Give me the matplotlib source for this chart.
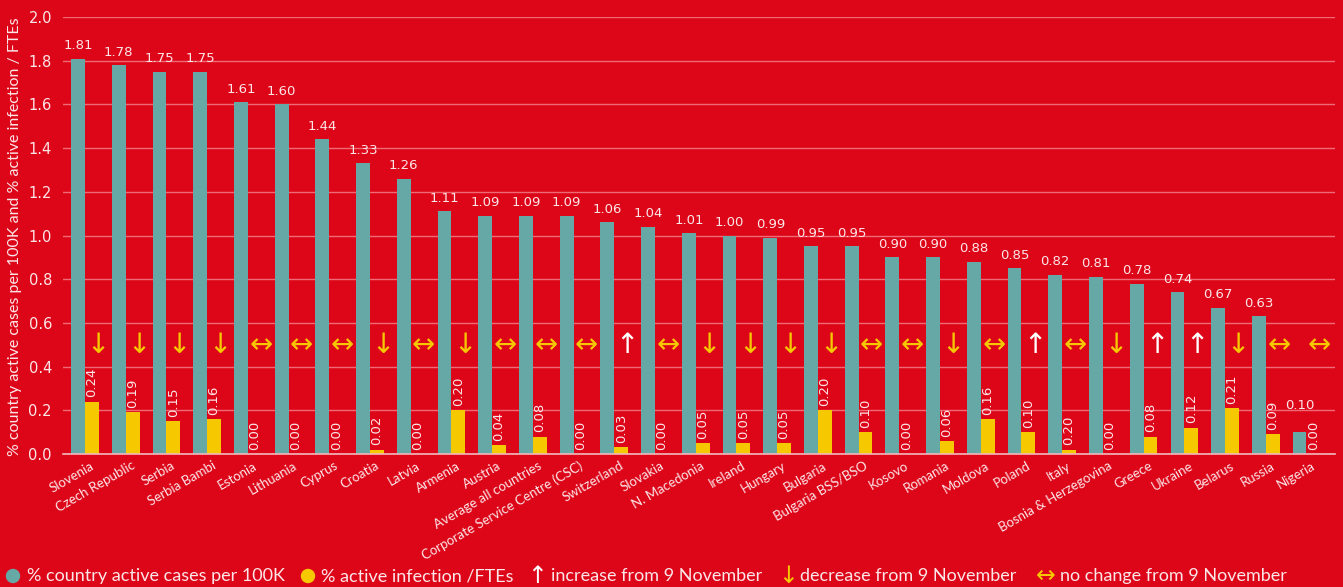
import matplotlib
matplotlib.use("Agg")
import matplotlib.pyplot as plt
import numpy as np

categories = ["Slovenia", "Czech Republic", "Serbia", "Serbia Bambi", "Estonia", "Lithuania",
              "Cyprus", "Croatia", "Latvia", "Armenia", "Austria", "Average all countries",
              "Corporate Service Centre (CSC)", "Switzerland", "Slovakia", "N. Macedonia",
              "Ireland", "Hungary", "Bulgaria", "Bulgaria BSS/BSO", "Kosovo", "Romania",
              "Moldova", "Poland", "Italy", "Bosnia & Herzegovina", "Greece", "Ukraine",
              "Belarus", "Russia", "Nigeria"]
cases_per_100k = [1.81, 1.78, 1.75, 1.75, 1.61, 1.60, 1.44, 1.33, 1.26, 1.11, 1.09, 1.09,
                  1.09, 1.06, 1.04, 1.01, 1.00, 0.99, 0.95, 0.95, 0.90, 0.90, 0.88, 0.85,
                  0.82, 0.81, 0.78, 0.74, 0.67, 0.63, 0.10]
infection_fte = [0.24, 0.19, 0.15, 0.16, 0.00, 0.00, 0.00, 0.02, 0.00, 0.20, 0.04, 0.08,
                 0.00, 0.03, 0.00, 0.05, 0.05, 0.05, 0.20, 0.10, 0.00, 0.06, 0.16, 0.10,
                 0.02, 0.00, 0.08, 0.12, 0.21, 0.09, 0.00]
infection_labels = ["0.24", "0.19", "0.15", "0.16", "0.00", "0.00", "0.00", "0.02", "0.00",
                    "0.20", "0.04", "0.08", "0.00", "0.03", "0.00", "0.05", "0.05", "0.05",
                    "0.20", "0.10", "0.00", "0.06", "0.16", "0.10", "0.20", "0.00", "0.08",
                    "0.12", "0.21", "0.09", "0.00"]
# trend vs 9 November: d = decrease, u = increase, n = no change
trend = ["d", "d", "d", "d", "n", "n", "n", "d", "n", "d", "n", "n", "n", "u", "n", "d",
         "d", "d", "d", "n", "n", "d", "n", "u", "n", "d", "u", "u", "d", "n", "n"]
y_ticks = [0.0, 0.2, 0.4, 0.6, 0.8, 1.0, 1.2, 1.4, 1.6, 1.8, 2.0]

BG = "#DD0619"
TEAL = "#66A8A6"
YELLOW = "#F5C800"
GRID = "#EE6A76"
WHITE = "#FFFFFF"
TXT = "#FBE6E8"

arrow_glyph = {"d": "\u2193", "u": "\u2191", "n": "\u2194"}
arrow_color = {"d": YELLOW, "u": WHITE, "n": YELLOW}

fig = plt.figure(figsize=(13.43, 5.87), dpi=100, facecolor=BG)
ax = fig.add_axes([63/1343, 1-454/587, (1335-63)/1343, (454-17)/587])
ax.set_facecolor(BG)

x = np.arange(len(categories))
w = 0.34
ax.bar(x - w/2, cases_per_100k, width=w, color=TEAL, zorder=3)
ax.bar(x + w/2, infection_fte, width=w, color=YELLOW, zorder=3)

for i, v in enumerate(cases_per_100k):
    off = 0.09 if v < 0.2 else 0.03
    ax.text(x[i] - w/2, v + off, f"{v:.2f}", ha="center", va="bottom",
            color=TXT, fontsize=9.5, family="DejaVu Sans", zorder=4)
for i, v in enumerate(infection_fte):
    ax.text(x[i] + w/2, v + 0.02, infection_labels[i], ha="center", va="bottom",
            rotation=90, color=TXT, fontsize=9.5, family="DejaVu Sans", zorder=4)
for i, t in enumerate(trend):
    ax.text(x[i] + 0.32, 0.5, arrow_glyph[t], ha="center", va="center",
            color=arrow_color[t], fontsize=20, family="DejaVu Sans", zorder=4)

ax.set_xlim(-0.54, len(categories) - 0.3)
ax.set_ylim(0, 2.0)
ax.set_yticks(y_ticks)
ax.set_yticklabels([f"{t:.1f}" for t in y_ticks], color=TXT, fontsize=10.5,
                   family="DejaVu Sans")
ax.yaxis.grid(True, color=GRID, linewidth=1, zorder=0)
ax.tick_params(axis="y", length=0, pad=8)
ax.tick_params(axis="x", length=0, pad=4)
ax.set_xticks(x + 0.12)
ax.set_xticklabels(categories, rotation=30, ha="right", rotation_mode="anchor",
                   color=TXT, fontsize=9.5, family="Lato")
for s in ["top", "right", "left"]:
    ax.spines[s].set_visible(False)
ax.spines["bottom"].set_color("#F3B8BD")
ax.spines["bottom"].set_linewidth(1.2)
ax.spines["bottom"].set_zorder(5)

fig.text(15/1343, 1-237/587, "% country active cases per 100K and % active infection / FTEs",
         rotation=90, ha="center", va="center", color=TXT, fontsize=11.5, family="Lato")

# legend
ly = 1 - 576/587
leg_font = "Lato"
lfs = 13
fig.patches.append(matplotlib.patches.Ellipse((13/1343, ly), 13/1343, 13/587,
                   transform=fig.transFigure, color=TEAL))
fig.text(27/1343, ly, "% country active cases per 100K", ha="left", va="center",
         color=TXT, fontsize=lfs, family=leg_font)
fig.patches.append(matplotlib.patches.Ellipse((308/1343, ly), 13/1343, 13/587,
                   transform=fig.transFigure, color=YELLOW))
fig.text(321/1343, ly, "% active infection /FTEs", ha="left", va="center",
         color=TXT, fontsize=lfs, family=leg_font)
fig.text(537/1343, ly, "\u2191", ha="center", va="center", color=WHITE, fontsize=17,
         family="DejaVu Sans")
fig.text(551/1343, ly, "increase from 9 November", ha="left", va="center",
         color=TXT, fontsize=lfs, family=leg_font)
fig.text(788/1343, ly, "\u2193", ha="center", va="center", color=YELLOW, fontsize=17,
         family="DejaVu Sans")
fig.text(800/1343, ly, "decrease from 9 November", ha="left", va="center",
         color=TXT, fontsize=lfs, family=leg_font)
fig.text(1046/1343, ly, "\u2194", ha="center", va="center", color=YELLOW, fontsize=17,
         family="DejaVu Sans")
fig.text(1060/1343, ly, "no change from 9 November", ha="left", va="center",
         color=TXT, fontsize=lfs, family=leg_font)

fig.savefig("out.png", dpi=100, facecolor=BG)
